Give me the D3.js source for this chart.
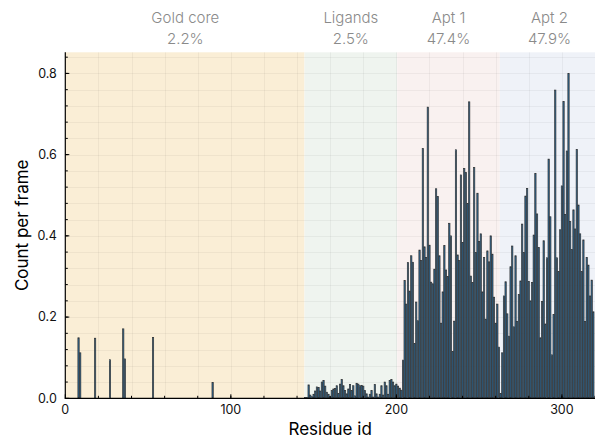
<!DOCTYPE html>
<html>
<head>
<meta charset="utf-8">
<script src="https://cdn.jsdelivr.net/npm/d3@7"></script>
<style>
  html, body { margin: 0; padding: 0; background: #ffffff; }
  svg { display: block; }
</style>
</head>
<body>
<svg id="chart" width="595" height="437"></svg>
<script>
// ---- data ----
const regionNames  = ["Gold core", "Ligands", "Apt 1", "Apt 2"];
const regionShares = ["2.2%", "2.5%", "47.4%", "47.9%"];
const regionStarts = [0.5, 144.5, 200.5, 262.5];
const regionEnds   = [144.5, 200.5, 262.5, 322.5];

const goldCoreIds    = [8, 9, 18, 27, 35, 36, 53, 89];
const goldCoreCounts = [0.149, 0.112, 0.148, 0.095, 0.171, 0.097, 0.150, 0.039];

const ligandFirstId = 145;
const ligandCounts = [
  0.002, 0.002, 0.033, 0.008, 0.004, 0.010, 0.018, 0.028, 0.027, 0.018,
  0.040, 0.044, 0.030, 0.015, 0.010, 0.004, 0.019, 0.023, 0.024, 0.031,
  0.012, 0.035, 0.046, 0.031, 0.019, 0.011, 0.023, 0.034, 0.019, 0.031,
  0.006, 0.037, 0.035, 0.031, 0.032, 0.030, 0.019, 0.011, 0.003, 0.010,
  0.019, 0.003, 0.034, 0.011, 0.003, 0.010, 0.031, 0.008, 0.040, 0.031,
  0.010, 0.044, 0.046, 0.040, 0.031, 0.035
];

const apt1FirstId = 201;
const apt1Counts = [
  0.030, 0.025, 0.020,
  0.094, 0.290, 0.232, 0.334, 0.264, 0.351, 0.335, 0.135, 0.237, 0.191,
  0.365, 0.339, 0.615, 0.373, 0.347, 0.717, 0.377, 0.286, 0.282, 0.318,
  0.516, 0.497, 0.351, 0.185, 0.262, 0.376, 0.316, 0.300, 0.431, 0.400,
  0.115, 0.190, 0.612, 0.353, 0.339, 0.550, 0.384, 0.566, 0.556, 0.480,
  0.730, 0.301, 0.285, 0.568, 0.359, 0.505, 0.386, 0.405, 0.262, 0.347,
  0.195, 0.363, 0.336, 0.400, 0.355, 0.249, 0.185, 0.232, 0.126
];

const apt2FirstId = 263;
const apt2Counts = [
  0.012,
  0.112, 0.252, 0.287, 0.208, 0.153, 0.324, 0.375, 0.176, 0.351, 0.189,
  0.256, 0.289, 0.429, 0.359, 0.498, 0.517, 0.288, 0.240, 0.285, 0.402,
  0.554, 0.454, 0.371, 0.149, 0.238, 0.388, 0.183, 0.346, 0.589, 0.447,
  0.107, 0.206, 0.759, 0.346, 0.312, 0.415, 0.523, 0.731, 0.453, 0.609,
  0.800, 0.435, 0.366, 0.464, 0.417, 0.613, 0.476, 0.405, 0.312, 0.390,
  0.189, 0.347, 0.328, 0.252, 0.291, 0.213
];

const xMajorTicks = [0, 100, 200, 300];
const yMajorTicks = [0.0, 0.2, 0.4, 0.6, 0.8];
const xTitle = "Residue id";
const yTitle = "Count per frame";

// ---- assemble bars ----
const bars = [];
goldCoreIds.forEach((id, i) => bars.push({ id, v: goldCoreCounts[i] }));
ligandCounts.forEach((v, i) => bars.push({ id: ligandFirstId + i, v }));
apt1Counts.forEach((v, i) => bars.push({ id: apt1FirstId + i, v }));
apt2Counts.forEach((v, i) => bars.push({ id: apt2FirstId + i, v }));

// ---- layout ----
const L = 65.3, R = 595, T = 52.3, B = 398.3;
const xMax = 320, yMax = 0.852;
const x = d3.scaleLinear().domain([0, xMax]).range([L, R]);
const y = d3.scaleLinear().domain([0, yMax]).range([B, T]);

const regionFills = ["#faeed6", "#eff4ef", "#f9f1f0", "#eff2f8"];
const font = "Inter, 'Noto Sans', 'DejaVu Sans', sans-serif";

const svg = d3.select("#chart");

// backgrounds
function i0(a) { return a < 1 ? 0 : a; }
const regions = regionNames.map((n, i) => ({ n, s: regionShares[i], a: regionStarts[i], b: regionEnds[i], fill: regionFills[i] }));
svg.append("g").selectAll("rect").data(regions).join("rect")
  .attr("x", d => x(Math.max(0, i0(d.a))))
  .attr("width", d => x(Math.min(xMax, d.b)) - x(Math.max(0, i0(d.a))))
  .attr("y", T).attr("height", B - T)
  .attr("fill", d => d.fill);

// grid
const xMinor = d3.range(20, xMax + 1, 20);
const yMinor = d3.range(1, 22).map(k => k * 0.04);
const grid = svg.append("g").attr("stroke", "rgba(0,0,0,0.045)").attr("stroke-width", 1);
grid.selectAll(".gx").data(xMinor).join("line")
  .attr("x1", d => Math.round(x(d)) + 0.5).attr("x2", d => Math.round(x(d)) + 0.5)
  .attr("y1", T).attr("y2", B);
grid.selectAll(".gy").data(yMinor.filter(v => v < yMax)).join("line")
  .attr("y1", d => Math.round(y(d)) + 0.5).attr("y2", d => Math.round(y(d)) + 0.5)
  .attr("x1", L).attr("x2", R);

// bars
const bw = 0.8;
svg.append("g").selectAll("rect").data(bars.filter(d => d.v > 0)).join("rect")
  .attr("x", d => x(d.id - bw / 2))
  .attr("width", x(bw) - x(0))
  .attr("y", d => y(d.v))
  .attr("height", d => y(0) - y(d.v))
  .attr("fill", "#2f6690")
  .attr("stroke", "#2e2e2e")
  .attr("stroke-width", 0.65);

// spines
svg.append("line").attr("x1", L).attr("x2", L).attr("y1", T).attr("y2", B + 0.5)
  .attr("stroke", "#000").attr("stroke-width", 1.2);
svg.append("line").attr("x1", L - 0.5).attr("x2", R).attr("y1", B).attr("y2", B)
  .attr("stroke", "#000").attr("stroke-width", 1.2);

// ticks (inside)
const tk = svg.append("g").attr("stroke", "#000").attr("stroke-width", 1);
tk.selectAll(".yt").data(yMinor.filter(v => v < yMax)).join("line")
  .attr("x1", L).attr("x2", L + 2.5)
  .attr("y1", d => y(d)).attr("y2", d => y(d));
tk.selectAll(".ytM").data(yMajorTicks).join("line")
  .attr("x1", L).attr("x2", L + 4)
  .attr("y1", d => y(d)).attr("y2", d => y(d));
tk.selectAll(".xt").data(xMinor).join("line")
  .attr("x1", d => x(d)).attr("x2", d => x(d))
  .attr("y1", B).attr("y2", B - 2.5);
tk.selectAll(".xtM").data(xMajorTicks).join("line")
  .attr("x1", d => x(d)).attr("x2", d => x(d))
  .attr("y1", B).attr("y2", B - 4);

// tick labels
svg.append("g").selectAll("text").data(yMajorTicks).join("text")
  .attr("x", L - 8.5).attr("y", d => y(d) + 4.4)
  .attr("text-anchor", "end")
  .attr("font-family", font).attr("font-size", 12.5).attr("fill", "#111")
  .text(d => d3.format(".1f")(d));
svg.append("g").selectAll("text").data(xMajorTicks).join("text")
  .attr("x", d => x(d)).attr("y", B + 15.5)
  .attr("text-anchor", "middle")
  .attr("font-family", font).attr("font-size", 12.5).attr("fill", "#111")
  .text(d => d);

// axis titles
svg.append("text").attr("x", (L + R) / 2).attr("y", 434.5)
  .attr("text-anchor", "middle").attr("font-family", font).attr("font-size", 17)
  .attr("fill", "#000").text(xTitle);
svg.append("text").attr("transform", `translate(27.5, ${(T + B) / 2}) rotate(-90)`)
  .attr("text-anchor", "middle").attr("font-family", font).attr("font-size", 17)
  .attr("fill", "#000").text(yTitle);

// region labels
const rl = svg.append("g").attr("font-family", font).attr("font-size", 15)
  .attr("font-weight", 300).attr("fill", "#8a8a8a").attr("text-anchor", "middle");
rl.selectAll(".rn").data(regions).join("text")
  .attr("x", d => x((d.a + d.b) / 2)).attr("y", 22.7).text(d => d.n);
rl.selectAll(".rs").data(regions).join("text")
  .attr("x", d => x((d.a + d.b) / 2)).attr("y", 43.5).text(d => d.s);
</script>
</body>
</html>
